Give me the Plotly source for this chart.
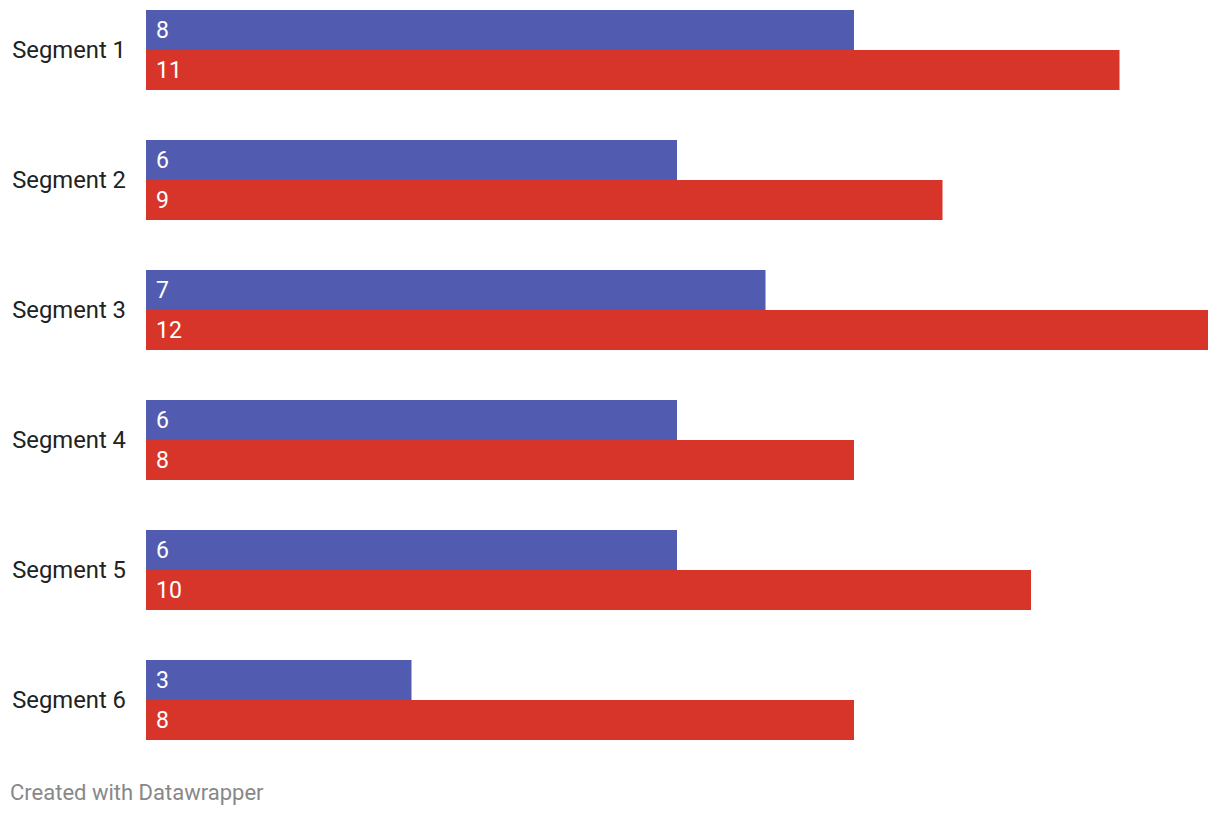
import plotly.graph_objects as go

categories = ["Segment 1", "Segment 2", "Segment 3", "Segment 4", "Segment 5", "Segment 6"]
series_a = [8, 6, 7, 6, 6, 3]
series_b = [11, 9, 12, 8, 10, 8]
color_a = "#515CB0"
color_b = "#D8352A"

# page body has an 8px margin; compensate so plot area spans x 146..1208, y 10..740 on the page
ML, MR, MT, MB = 138, 20, 2, 84
PW = 1220 - ML - MR
PH = 816 - MT - MB

fig = go.Figure()
fig.add_trace(go.Bar(y=categories, x=series_a, orientation="h", marker=dict(color=color_a, line=dict(width=0)),
                     hoverinfo="x"))
fig.add_trace(go.Bar(y=categories, x=series_b, orientation="h", marker=dict(color=color_b, line=dict(width=0)),
                     hoverinfo="x"))

for c, a, b in zip(categories, series_a, series_b):
    fig.add_annotation(x=0, y=c, text=str(a), showarrow=False, xanchor="left", yanchor="middle",
                       xshift=8, yshift=20, font=dict(color="white", size=23, family="Roboto"))
    fig.add_annotation(x=0, y=c, text=str(b), showarrow=False, xanchor="left", yanchor="middle",
                       xshift=8, yshift=-20, font=dict(color="white", size=23, family="Roboto"))

fig.add_annotation(xref="paper", yref="paper", x=(0 - ML) / PW, y=-(792 - 740) / PH,
                   text="Created with Datawrapper", showarrow=False, xanchor="left", yanchor="middle",
                   font=dict(color="#888888", size=22, family="Roboto"))

fig.update_layout(
    width=1220, height=816,
    margin=dict(l=ML, r=MR, t=MT, b=MB, pad=0),
    barmode="group", bargap=50 / 130, bargroupgap=0,
    showlegend=False,
    plot_bgcolor="white", paper_bgcolor="white",
    font=dict(family="Roboto", size=24, color="#222222"),
    xaxis=dict(range=[0, 12], visible=False, showgrid=False, zeroline=False, fixedrange=True),
    yaxis=dict(type="category", range=[5 + 40 / 130, -40 / 130], showgrid=False, zeroline=False,
               ticks="", showline=False, ticklabelstandoff=19, tickfont=dict(size=23.8, color="#222222"),
               fixedrange=True),
)

fig.write_html("out.html", config={"displayModeBar": False})
